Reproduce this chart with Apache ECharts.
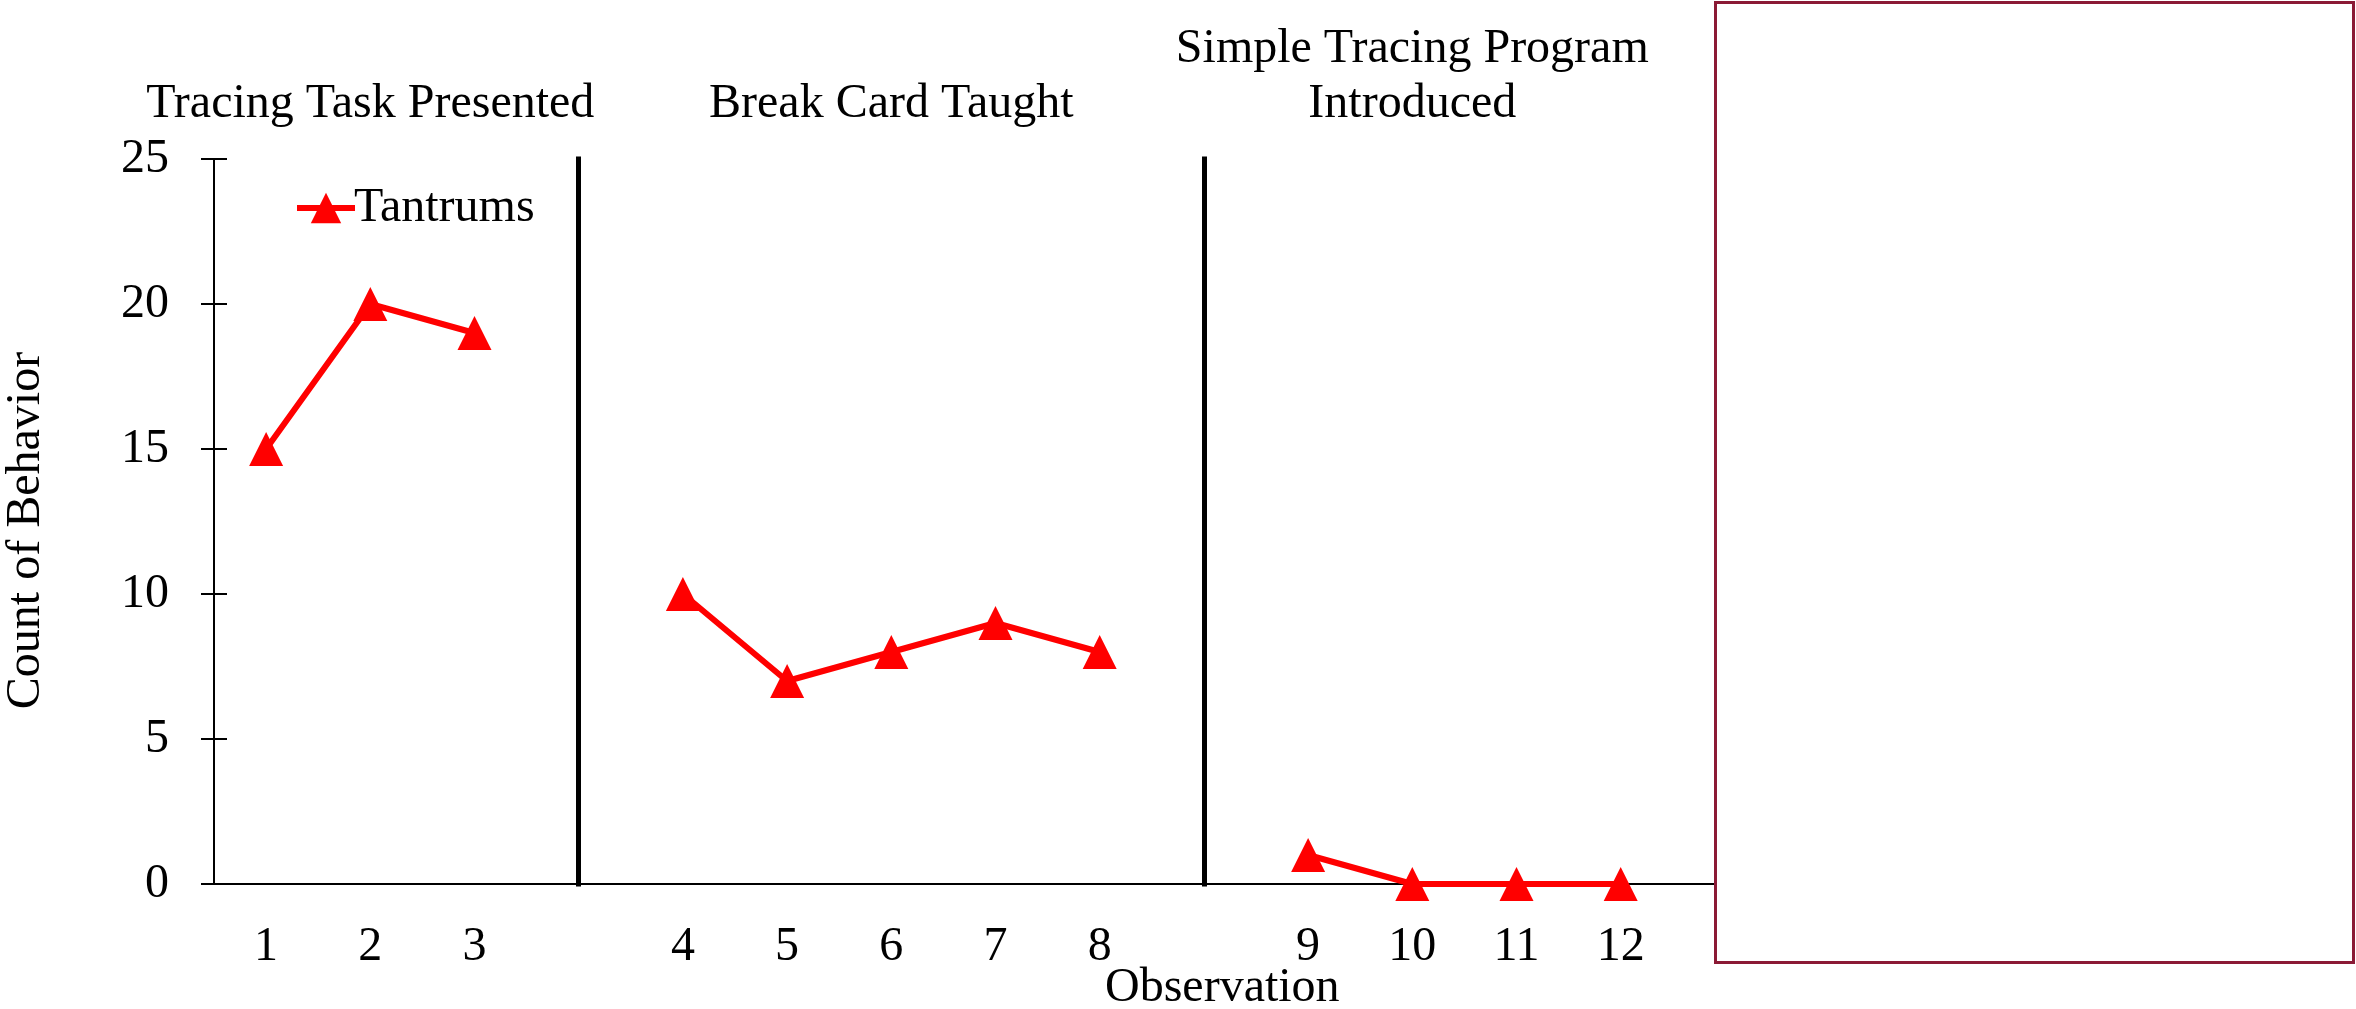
<!DOCTYPE html>
<html>
<head>
<meta charset="utf-8">
<title>Tantrums by Observation</title>
<script src="https://cdn.jsdelivr.net/npm/echarts@6/dist/echarts.min.js"></script>
<style>
  html, body { margin: 0; padding: 0; background: #fff; }
  #main { width: 2356px; height: 1009px; }
</style>
</head>
<body>
<div id="main"></div>
<script type="text/javascript">
// slots on the x axis: blanks are the phase-change gaps, last slot sits under the box
var categories = ['1', '2', '3', '', '4', '5', '6', '7', '8', '', '9', '10', '11', '12', ''];
var tantrums = [15, 20, 19, null, 10, 7, 8, 9, 8, null, 1, 0, 0, 0, null];
// phase titles, split in two rows (upper row only used by the third phase)
var phaseUpper = ['', '', '', '', '', '', '', '', '', '', '', 'Simple Tracing Program', '', '', ''];
var phaseLower = ['', 'Tracing Task Presented', '', '', '', '', 'Break Card Taught', '', '', '', '', 'Introduced', '', '', ''];
var phaseBreaks = [3, 9];
var yTicks = { min: 0, max: 25, interval: 5 };

var FONT = '"Liberation Serif", "Times New Roman", serif';
var RED = '#ff0000';

function phaseAxis(labels, margin) {
  return {
    type: 'category', data: labels, position: 'top',
    axisLine: { show: false },
    axisTick: { show: false },
    axisLabel: { interval: 0, margin: margin, fontFamily: FONT, fontSize: 48, color: '#000' },
    splitLine: { show: false }
  };
}

var chart = echarts.init(document.getElementById('main'));

chart.setOption({
  animation: false,
  textStyle: { fontFamily: FONT, color: '#000' },
  grid: { left: 214, top: 159, right: 579, bottom: 125, containLabel: false, outerBoundsMode: 'none' },
  legend: {
    left: 289, top: 179,
    itemWidth: 58, itemHeight: 38, itemGap: 4,
    lineStyle: { width: 6 },
    textStyle: { fontFamily: FONT, fontSize: 48, color: '#000', padding: [0, 0, 0, -6] },
    data: ['Tantrums']
  },
  xAxis: [
    {
      type: 'category', data: categories, position: 'bottom',
      axisLine: { lineStyle: { color: '#000', width: 2 } },
      axisTick: { alignWithLabel: true, length: 11, lineStyle: { color: '#000', width: 2 } },
      axisLabel: { interval: 0, margin: 39, fontFamily: FONT, fontSize: 48, color: '#000' },
      splitLine: { show: false }
    },
    {
      type: 'category', data: categories, position: 'bottom',
      axisLine: { show: false },
      axisTick: { alignWithLabel: true, inside: true, length: 11, lineStyle: { color: '#000', width: 2 } },
      axisLabel: { show: false },
      splitLine: { show: false }
    },
    phaseAxis(phaseLower, 31),
    phaseAxis(phaseUpper, 86)
  ],
  yAxis: [
    {
      type: 'value', min: yTicks.min, max: yTicks.max, interval: yTicks.interval, position: 'left',
      name: 'Count of Behavior', nameLocation: 'middle', nameGap: 164, nameRotate: 90,
      nameTextStyle: { fontFamily: FONT, fontSize: 48, color: '#000', padding: [0, 18, 0, 0] },
      axisLine: { show: true, lineStyle: { color: '#000', width: 2 } },
      axisTick: { show: true, length: 13, lineStyle: { color: '#000', width: 2 } },
      axisLabel: { margin: 45, fontFamily: FONT, fontSize: 48, color: '#000' },
      splitLine: { show: false }
    },
    {
      type: 'value', min: yTicks.min, max: yTicks.max, interval: yTicks.interval, position: 'left',
      axisLine: { show: false },
      axisTick: { show: true, inside: true, length: 13, lineStyle: { color: '#000', width: 2 } },
      axisLabel: { show: false },
      splitLine: { show: false }
    }
  ],
  series: [
    {
      name: 'Tantrums', type: 'line', xAxisIndex: 0, yAxisIndex: 0,
      data: tantrums, connectNulls: false,
      symbol: 'triangle', symbolSize: 34,
      lineStyle: { color: RED, width: 6 },
      itemStyle: { color: RED },
      z: 5,
      markLine: {
        silent: true, symbol: ['none', 'none'],
        label: { show: false },
        lineStyle: { color: '#000', width: 5, type: 'solid', cap: 'square' },
        data: phaseBreaks.map(function (i) { return { xAxis: i }; })
      }
    }
  ],
  graphic: [
    {
      type: 'text', left: 1105, top: 964, z: 10,
      style: { text: 'Observation', font: '48px ' + FONT, fill: '#000' }
    },
    {
      type: 'rect', left: 1714, top: 1, z: 20,
      shape: { width: 638, height: 960 },
      style: { fill: '#fff', stroke: '#8b1a35', lineWidth: 3 }
    }
  ]
});
</script>
</body>
</html>
